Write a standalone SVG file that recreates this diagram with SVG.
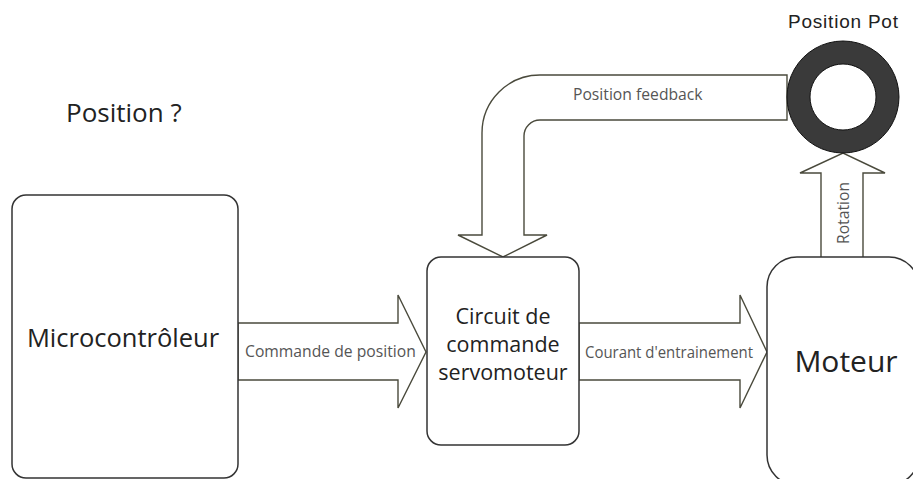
<svg xmlns="http://www.w3.org/2000/svg" width="913" height="479" viewBox="0 0 913 479">
<style>
.box{fill:#fff;stroke:#333;stroke-width:1.5}
.arrow{fill:#fff;stroke:#4a4a3c;stroke-width:1.4;stroke-linejoin:miter}
.big{font-family:"Open Sans","Noto Sans",sans-serif;fill:#222}
.lbl{font-family:"Open Sans","Noto Sans",sans-serif;fill:#555;font-size:15.7px}
</style>
<rect width="913" height="479" fill="#fff"/>
<g id="connectors">
<path class="arrow" d="M238,323 L398,323 L398,295 L426,352 L398,408 L398,380 L238,380 Z"/>
<path class="arrow" d="M579,323 L740,323 L740,295 L767,352 L740,408 L740,380 L579,380 Z"/>
<path class="arrow" d="M821,258 L821,173 L800,173 L843,153 L885,173 L863,173 L863,258 Z"/>
<path class="arrow" d="M787,75 L540,75 A58,58 0 0 0 482,133 L482,235 L458,235 L503,257 L547,235 L524,235 L524,136 A16,16 0 0 1 540,120 L787,120 Z"/>
<text class="lbl" x="245" y="357">Commande de position</text>
<text class="lbl" x="585" y="358" font-size="15" textLength="168" lengthAdjust="spacingAndGlyphs">Courant d'entrainement</text>
<text class="lbl" x="573" y="100" font-size="16.5">Position feedback</text>
<text class="lbl" transform="translate(849,213) rotate(-90)" text-anchor="middle" font-size="14.5">Rotation</text>
</g>
<text class="big" x="66" y="122" font-size="26">Position ?</text>
<g id="microcontroleur">
<rect class="box" x="12" y="195" width="226" height="283" rx="14"/>
<text class="big" x="123" y="347" font-size="25.5" text-anchor="middle">Microcontrôleur</text>
</g>
<g id="circuit">
<rect class="box" x="427" y="257" width="152" height="188" rx="14"/>
<text class="big" x="503" y="324" font-size="21.5" text-anchor="middle" fill="#333">Circuit de</text>
<text class="big" x="503" y="352" font-size="21.5" text-anchor="middle" fill="#333">commande</text>
<text class="big" x="503" y="380" font-size="21.5" text-anchor="middle" fill="#333">servomoteur</text>
</g>
<g id="moteur">
<rect class="box" x="767" y="257" width="152" height="228" rx="30"/>
<text class="big" x="846" y="372" font-size="30" text-anchor="middle">Moteur</text>
</g>
<g id="pot">
<path d="M843,41 A56,56 0 1 1 842.99,41 Z M843,64 A33,33 0 1 0 843.01,64 Z" fill="#3a3a3a" fill-rule="evenodd" stroke="#111" stroke-width="1"/>
<text x="843" y="28" font-family="Liberation Sans, Arial, sans-serif" font-size="19" fill="#222" text-anchor="middle" textLength="110">Position Pot</text>
</g>
</svg>
